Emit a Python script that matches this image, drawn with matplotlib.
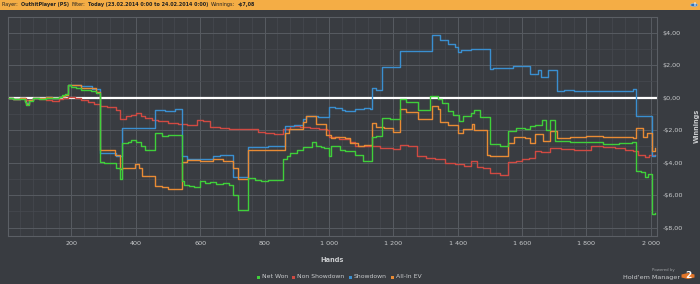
import matplotlib
matplotlib.use('Agg')
import matplotlib.pyplot as plt
from matplotlib.patches import Rectangle, RegularPolygon, Circle
from matplotlib.ticker import MultipleLocator, FixedLocator

# hand-read step points (hand, winnings $)
net_won_x = [5, 20, 40, 55, 60, 68, 80, 100, 120, 140, 160, 170, 180, 190, 200, 215, 230, 245, 260, 275,
             288, 300, 320, 340, 350, 357, 375, 385, 400, 415, 430, 445, 461, 480, 500, 520, 542, 550, 565,
             580, 600, 615, 630, 650, 670, 690, 702, 717, 750, 770, 790, 810, 830, 857, 870, 880, 900, 920,
             946, 960, 975, 985, 1000, 1005, 1034, 1050, 1082, 1106, 1133, 1145, 1166, 1190, 1221, 1240,
             1277, 1314, 1340, 1350, 1370, 1385, 1405, 1417, 1440, 1450, 1470, 1500, 1530, 1557, 1580, 1610,
             1625, 1640, 1661, 1675, 1687, 1703, 1750, 1800, 1850, 1900, 1940, 1953, 1970, 1982, 1990, 2003,
             2012]
net_won_y = [-0.05, -0.1, -0.1, -0.25, -0.45, -0.2, -0.05, -0.1, 0.0, -0.05, 0.05, 0.15, 0.2, 0.78, 0.65,
             0.6, 0.5, 0.45, 0.4, 0.3, -3.95, -4.0, -4.05, -4.3, -5.0, -2.8, -2.7, -2.6, -2.75, -3.0, -3.2,
             -3.25, -2.2, -2.35, -2.3, -2.3, -5.15, -5.35, -5.45, -5.5, -5.15, -5.25, -5.2, -5.3, -5.25, -5.4,
             -6.0, -6.9, -4.95, -5.05, -5.15, -5.1, -5.05, -3.8, -3.6, -3.4, -3.2, -3.05, -2.75, -2.95, -3.05,
             -3.1, -3.6, -3.0, -3.2, -3.3, -3.55, -3.9, -2.45, -2.35, -1.25, -1.3, -0.1, -0.25, -0.75, 0.1,
             -0.1, -0.35, -0.85, -1.05, -1.45, -1.1, -0.95, -0.75, -1.2, -2.85, -2.95, -2.05, -1.85, -1.9,
             -1.75, -1.7, -1.35, -2.0, -1.35, -2.65, -2.75, -2.7, -2.85, -2.8, -2.75, -4.5, -4.55, -4.9, -4.7,
             -7.15, -7.08]

non_sd_x = [5, 20, 40, 60, 80, 100, 120, 140, 160, 175, 190, 210, 230, 250, 270, 290, 310, 325, 340, 350,
            370, 385, 400, 415, 430, 450, 470, 500, 530, 560, 589, 610, 630, 660, 690, 720, 750, 780, 800,
            830, 857, 880, 910, 940, 970, 993, 1000, 1030, 1065, 1080, 1110, 1133, 1160, 1200, 1221, 1245,
            1273, 1300, 1330, 1360, 1390, 1420, 1440, 1460, 1480, 1500, 1530, 1557, 1580, 1600, 1620, 1640,
            1660, 1687, 1720, 1760, 1790, 1815, 1850, 1890, 1920, 1945, 1960, 1982, 1995, 2012]
non_sd_y = [-0.05, -0.1, -0.05, -0.15, 0.0, -0.1, -0.15, -0.2, -0.1, -0.05, 0.05, 0.0, -0.15, -0.25, -0.4,
            -0.5, -0.55, -0.55, -0.75, -1.3, -1.15, -1.05, -0.95, -1.1, -1.25, -1.35, -1.45, -1.55, -1.6,
            -1.7, -1.4, -1.45, -1.8, -1.85, -1.95, -1.9, -1.95, -2.1, -2.2, -2.25, -1.9, -1.75, -1.8, -1.85,
            -1.95, -2.0, -2.45, -2.55, -2.7, -2.95, -3.0, -2.95, -3.1, -3.15, -2.9, -2.95, -3.6, -3.7, -3.8,
            -4.0, -4.1, -4.2, -3.9, -4.25, -4.35, -4.65, -4.75, -3.95, -3.9, -3.8, -3.7, -3.3, -3.35, -3.1,
            -3.15, -3.25, -3.2, -3.0, -3.05, -3.1, -3.2, -3.3, -3.5, -3.65, -3.55, -3.55]

showdown_x = [5, 20, 40, 55, 60, 68, 80, 100, 120, 140, 160, 170, 180, 190, 230, 265, 288, 340, 357, 459,
              490, 521, 545, 560, 640, 660, 702, 750, 810, 863, 890, 920, 930, 965, 1001, 1020, 1040, 1050,
              1080, 1110, 1127, 1133, 1145, 1164, 1221, 1319, 1345, 1370, 1390, 1401, 1410, 1440, 1500, 1510,
              1573, 1623, 1650, 1660, 1680, 1708, 1730, 1760, 1800, 1945, 1953, 2003, 2012]
showdown_y = [-0.05, -0.1, -0.05, -0.2, -0.35, -0.15, -0.05, 0.0, 0.05, 0.0, 0.05, 0.1, 0.15, 0.76, 0.72,
              0.55, -3.4, -3.6, -1.85, -0.76, -0.85, -0.7, -3.6, -3.75, -3.6, -3.55, -4.9, -3.04, -2.95,
              -1.75, -1.7, -1.33, -1.1, -1.2, -0.6, -0.65, -0.75, -0.8, -0.7, -0.62, -0.7, 0.6, 0.5, 1.88,
              2.87, 3.85, 3.55, 3.3, 3.15, 2.8, 2.96, 3.0, 1.74, 1.8, 1.96, 1.43, 1.7, 1.3, 1.7, 0.4, 0.45,
              0.4, 0.44, 0.52, -1.13, -3.6, -3.55]

allin_x = [5, 20, 40, 55, 60, 68, 80, 100, 120, 140, 160, 170, 180, 190, 230, 275, 288, 335, 350, 356, 397,
           410, 420, 459, 480, 500, 520, 542, 560, 600, 640, 670, 702, 717, 750, 800, 840, 863, 875, 900,
           920, 930, 960, 990, 1005, 1020, 1050, 1065, 1090, 1110, 1133, 1145, 1170, 1200, 1221, 1240, 1277,
           1319, 1340, 1345, 1370, 1401, 1417, 1445, 1450, 1490, 1500, 1557, 1575, 1610, 1625, 1640, 1665,
           1687, 1708, 1750, 1800, 1850, 1900, 1945, 1953, 1975, 1988, 2003, 2012]
allin_y = [-0.05, -0.1, -0.05, -0.2, -0.4, -0.15, 0.0, -0.05, 0.05, 0.0, 0.05, 0.1, 0.15, 0.8, 0.6, 0.35,
           -3.22, -3.5, -4.4, -4.3, -4.1, -4.3, -4.8, -5.44, -5.5, -5.6, -5.65, -3.96, -3.85, -3.9, -3.8,
           -3.9, -4.3, -5.03, -3.24, -3.25, -3.2, -2.15, -1.95, -1.9, -1.5, -1.15, -1.6, -2.3, -2.46, -2.4,
           -2.5, -2.8, -2.95, -2.9, -1.54, -1.8, -1.85, -2.1, -0.72, -0.9, -1.33, -0.52, -0.7, -1.5, -1.7,
           -2.15, -1.9, -1.6, -2.0, -3.5, -3.6, -2.77, -2.4, -2.5, -2.77, -2.26, -2.65, -2.05, -2.5, -2.45,
           -2.35, -2.4, -2.45, -2.5, -1.85, -2.4, -2.2, -3.28, -3.1]

series_names = ['Net Won', 'Non Showdown', 'Showdown', 'All-In EV']
series_colors = ['#3fcf3a', '#d04a42', '#3a8fd0', '#e88b35']

x_ticks = [200, 400, 600, 800, 1000, 1200, 1400, 1600, 1800, 2000]
x_tick_labels = ['200', '400', '600', '800', '1 000', '1 200', '1 400', '1 600', '1 800', '2 000']
y_ticks = [4, 2, 0, -2, -4, -6, -8]
y_tick_labels = ['$4,00', '$2,00', '$0,00', '-$2,00', '-$4,00', '-$6,00', '-$8,00']

bg = '#393c41'
txt = '#c9cbcd'
plt.rcParams['font.family'] = 'DejaVu Sans'

fig = plt.figure(figsize=(7, 2.84), dpi=100, facecolor=bg)
W, H = 700, 284
renderer = fig.canvas.get_renderer()

# header bar
fig.patches.append(Rectangle((0, 1 - 10 / H), 1, 10 / H, transform=fig.transFigure,
                             facecolor='#f4ad45', edgecolor='none', zorder=0))
hdr = [('Player:', 'normal'), ('OuthitPlayer (PS)', 'bold'), ('Filter:', 'normal'),
       ('Today (23.02.2014 0:00 to 24.02.2014 0:00)', 'bold'), ('Winnings:', 'normal'), ('-$7,08', 'bold')]
x = 2
for s, w in hdr:
    t = fig.text(x / W, 1 - 4.8 / H, s, fontsize=3.5, weight=w, color='#222222', va='center', ha='left')
    x = t.get_window_extent(renderer=renderer).x1 + 2.5
fig.patches.append(Circle((694 / W, 1 - 5 / H), 3.6 / W, transform=fig.transFigure,
                          facecolor='#2c6fb8', edgecolor='#9cc3ea', lw=0.4, zorder=3))
fig.text(694 / W, 1 - 5 / H, 'i', fontsize=4, weight='bold', color='white', ha='center', va='center')

ax = fig.add_axes([8 / W, 1 - 235.7 / H, 649 / W, (235.7 - 16.5) / H])
ax.set_facecolor(bg)

for xs, ys, name, c, z in [(non_sd_x, non_sd_y, series_names[1], series_colors[1], 3),
                           (showdown_x, showdown_y, series_names[2], series_colors[2], 4),
                           (allin_x, allin_y, series_names[3], series_colors[3], 5),
                           (net_won_x, net_won_y, series_names[0], series_colors[0], 6)]:
    ax.plot(xs, ys, drawstyle='steps-post', color=c, lw=1.0, zorder=z, label=name)

ax.axhline(0, color='white', lw=1.6, zorder=2)

ax.set_xlim(3, 2019)
ax.set_ylim(-8.5, 5.0)
ax.xaxis.set_major_locator(FixedLocator(x_ticks))
ax.set_xticklabels(x_tick_labels)
ax.xaxis.set_minor_locator(MultipleLocator(40))
ax.yaxis.set_major_locator(FixedLocator(y_ticks))
ax.set_yticklabels(y_tick_labels)
ax.yaxis.set_minor_locator(MultipleLocator(1))
ax.yaxis.tick_right()
ax.grid(which='major', color='#575b61', lw=0.7, zorder=0)
ax.grid(which='minor', color='#464a50', lw=0.5, zorder=0)
ax.tick_params(which='both', length=0, colors=txt, labelsize=4.6, pad=4)
for sp in ax.spines.values():
    sp.set_color('#5b5f65')
    sp.set_linewidth(0.8)

ax.set_xlabel('Hands', fontsize=4.8, color=txt, weight='bold', labelpad=8)
ax.yaxis.set_label_position('right')
ax.set_ylabel('Winnings', fontsize=4.8, color=txt, weight='bold', labelpad=8)

# legend, laid out left to right
x = 258
for name, c in zip(series_names, series_colors):
    fig.patches.append(Rectangle(((x - 1.5) / W, 1 - 278.5 / H), 3 / W, 3 / H,
                                 transform=fig.transFigure, facecolor=c, edgecolor='none'))
    t = fig.text((x + 3.5) / W, 1 - 277 / H, name, fontsize=4.4, color=txt, va='center', ha='left')
    x = t.get_window_extent(renderer=renderer).x1 + 6

# logo
fig.text(675 / W, 1 - 270 / H, 'Powered by', fontsize=2.8, color='#a0a3a6', ha='right', va='center')
fig.text(680 / W, 1 - 277 / H, "Hold'em Manager", fontsize=4.6, color=txt, ha='right', va='center')
fig.patches.append(RegularPolygon((688 / W, 1 - 276 / H), 6, radius=7.5 / W, orientation=0,
                                  transform=fig.transFigure, facecolor='#e2762a', edgecolor='none'))
fig.text(688 / W, 1 - 276 / H, '2', fontsize=6.5, weight='bold', color='white', ha='center', va='center')

fig.savefig('out.png', dpi=100, facecolor=bg)
